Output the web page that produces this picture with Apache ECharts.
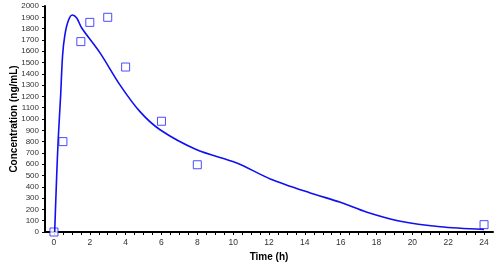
<!DOCTYPE html>
<html><head><meta charset="utf-8">
<script src="https://cdn.jsdelivr.net/npm/echarts@6/dist/echarts.min.js"></script>
<style>html,body{margin:0;padding:0;background:#fff}#c{width:500px;height:265px}</style>
</head><body><div id="c"></div>
<script>
// Observed data points (time h, concentration ng/mL)
const obsTime = [0, 0.5, 1.5, 2, 3, 4, 6, 8, 24];
const obsConc = [0, 800, 1685, 1855, 1900, 1460, 980, 595, 65];
// Fitted curve
const fitTime = [0.04, 0.15, 0.24, 0.37, 0.48, 0.61, 0.8, 1.02, 1.27, 1.55, 2.57, 3.69, 4.8, 5.92, 7.97, 10.2, 12.07, 14.3, 15.98, 17.47, 19.33, 21.56, 24];
const fitConc = [0, 490, 830, 1200, 1560, 1745, 1870, 1920, 1893, 1805, 1585, 1300, 1065, 905, 728, 611, 470, 346, 263, 175, 95, 46, 22];
const xLabels = [0, 2, 4, 6, 8, 10, 12, 14, 16, 18, 20, 22, 24];
const xTicks = [];
for (let i = 0; i <= 48; i++) xTicks.push(i / 2);

const chart = echarts.init(document.getElementById('c'), null, {renderer: 'canvas'});
chart.setOption({
  animation: false,
  grid: {left: 45, right: 7, top: 6, bottom: 33, containLabel: false, outerBoundsMode: 'none'},
  xAxis: {
    type: 'value', min: -0.5, max: 24.5,
    name: 'Time (h)', nameLocation: 'middle', nameGap: 20, nameMoveOverlap: false,
    nameTextStyle: {fontFamily: 'Liberation Sans', fontWeight: 'bold', fontSize: 10, color: '#000'},
    axisLine: {onZero: false, lineStyle: {color: '#000', width: 2}},
    axisTick: {show: true, length: 3, customValues: xTicks, lineStyle: {color: '#000'}},
    axisLabel: {customValues: xLabels, fontFamily: 'Liberation Sans', fontSize: 8.5, color: '#333', margin: 6},
    splitLine: {show: false}
  },
  yAxis: {
    type: 'value', min: 0, max: 2000, interval: 100,
    name: 'Concentration (ng/mL)', nameLocation: 'middle', nameGap: 26, nameMoveOverlap: false,
    nameTextStyle: {fontFamily: 'Liberation Sans', fontWeight: 'bold', fontSize: 10, color: '#000'},
    axisLine: {show: true, onZero: false, lineStyle: {color: '#000', width: 2}},
    axisTick: {show: true, length: 3, lineStyle: {color: '#000'}},
    axisLabel: {formatter: v => String(v), fontFamily: 'Liberation Sans', fontSize: 8, color: '#333', margin: 6},
    splitLine: {show: false}
  },
  series: [
    {
      type: 'line', smooth: 0.3, symbol: 'none',
      data: fitTime.map((t, i) => [t, fitConc[i]]),
      lineStyle: {color: '#1010f0', width: 1.6}
    },
    {
      type: 'scatter', symbol: 'rect', symbolSize: 8,
      data: obsTime.map((t, i) => [t, obsConc[i]]),
      itemStyle: {color: '#fff', borderColor: '#2020ff', borderWidth: 1}
    }
  ]
});
</script></body></html>
